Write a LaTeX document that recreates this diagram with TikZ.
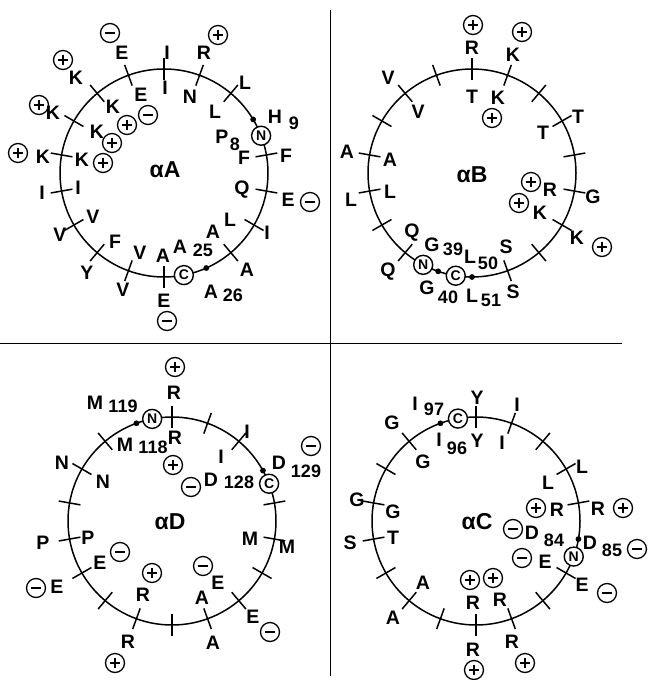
\documentclass[tikz,border=0pt]{standalone}
\usepackage{fontspec}
\setmainfont{Liberation Sans}
\usetikzlibrary{calc}
\tikzset{
  lbl/.style={inner sep=0pt, font=\fontsize{19.5}{19.5}\selectfont\bfseries},
  num/.style={inner sep=0pt, font=\fontsize{18}{18}\selectfont\bfseries},
  ttl/.style={inner sep=0pt, font=\fontsize{23}{23}\selectfont\bfseries},
  chgc/.style={circle, draw, line width=1.3pt, minimum size=19pt, inner sep=0pt},
  term/.style={circle, draw, fill=white, line width=1.4pt, minimum size=19pt, inner sep=0pt, font=\fontsize{14}{14}\selectfont\bfseries},
  wheel/.style={line width=1.5pt},
  sgn/.style={line width=1.5pt},
  divider/.style={line width=0.9pt}
}
\newcommand\lb[3]{\node[lbl] (#1) at (#2) {#3};}
\newcommand\nm[3]{\node[num] (#1) at (#2) {#3};}
\newcommand\pl[2]{\node[chgc] (#1) at (#2) {};
  \draw[sgn] (#1.center) +(-4.8,0) -- +(4.8,0); \draw[sgn] (#1.center) +(0,-4.8) -- +(0,4.8);}
\newcommand\mi[2]{\node[chgc] (#1) at (#2) {};
  \draw[sgn] (#1.center) +(-4.8,0) -- +(4.8,0);}
\newcommand\ticks[2]{\foreach \t in {#2}{\draw[wheel] ($(#1)+({-(\t)}:93)$) -- ($(#1)+({-(\t)}:115)$);}}
\newcommand\wdot[3]{\fill ($(#2)+({-(#3)}:104)$) coordinate (#1) circle (2.9);}
\newcommand\trm[4]{\node[term] (#1) at ($(#2)+({-(#3)}:104)$) {#4};}
\begin{document}
\begin{tikzpicture}[x=1pt,y=-1pt]
\useasboundingbox (0,0) rectangle (648,680);
% dividers
\coordinate (vt) at (330,10); \coordinate (vb) at (330,676);
\coordinate (hl) at (0,343); \coordinate (hr) at (622,343);
\draw[divider] (vt) -- (vb);
\draw[divider] (hl) -- (hr);

% ================= alpha A =================
\coordinate (cA) at (164,173);
\draw[wheel] (cA) circle (104);
\ticks{cA}{90,70,50,10,-10,-30,-50,-90,-110,-130,-150,-170,170,150,130,110}
\wdot{aDotN}{cA}{31}
\wdot{aDotC}{cA}{-66}
\trm{aN}{cA}{21}{N}
\trm{aC}{cA}{-79}{C}
\node[ttl] (tA) at (165,170) {αA};
\lb{a1}{167,53}{I} \lb{a2}{165,88}{I}
\lb{a3}{204,53}{R} \lb{a4}{190,97}{N} \pl{ap1}{218,35}
\lb{a5}{245,83}{L} \lb{a6}{215,112}{L}
\lb{a7}{275,117}{H} \nm{a7n}{294,123}{9}
\lb{a8}{222,137}{P} \nm{a8n}{235,144}{8}
\lb{a9}{286,156}{F} \lb{a10}{244,158}{F}
\lb{a11}{288,200}{E} \mi{am1}{310,202} \lb{a12}{242,190}{Q}
\lb{a13}{267,233}{I} \lb{a14}{230,220}{L}
\lb{a15}{247,270}{A} \lb{a16}{213,232}{A}
\lb{a17}{180,247}{A} \nm{a17n}{203,250}{25}
\lb{a18}{211,292}{A} \nm{a18n}{233,295}{26}
\lb{a19}{163,256}{A} \lb{a20}{164,301}{E} \mi{am2}{167,321}
\lb{a21}{140,253}{V} \lb{a22}{123,290}{V}
\lb{a23}{115,242}{F} \lb{a24}{87,273}{Y}
\lb{a25}{93,217}{V} \lb{a26}{60,235}{V}
\lb{a27}{78,188}{I} \lb{a28}{42,193}{I}
\lb{a29}{82,160}{K} \lb{a30}{43,157}{K} \pl{ap2}{18,153} \pl{ap3}{103,163}
\lb{a31}{97,132}{K} \lb{a32}{53,113}{K} \pl{ap4}{39,105} \pl{ap5}{112,143}
\lb{a33}{113,107}{K} \lb{a34}{76,78}{K} \pl{ap6}{63,60} \pl{ap7}{127,125}
\lb{a35}{141,95}{E} \lb{a36}{122,53}{E} \mi{am3}{110,33} \mi{am4}{148,115}

% ================= alpha B =================
\coordinate (cB) at (472,173);
\draw[wheel] (cB) circle (104);
\ticks{cB}{90,70,50,30,10,-10,-30,-50,-70,-130,-150,-170,170,150,130,110}
\wdot{bDot1}{cB}{-90}
\wdot{bDot2}{cB}{-109}
\trm{bC}{cB}{-99}{C}
\trm{bN}{cB}{-118}{N}
\node[ttl] (tB) at (472,175) {αB};
\pl{bp1}{473,25} \lb{b1}{472,48}{R} \lb{b2}{472,97}{T}
\pl{bp2}{522,32} \lb{b3}{513,55}{K} \lb{b4}{498,98}{K} \pl{bp3}{492,118}
\lb{b5}{578,117}{T} \lb{b6}{543,133}{T}
\lb{b7}{593,197}{G} \lb{b8}{550,190}{R} \pl{bp4}{531,182}
\lb{b9}{577,238}{K} \pl{bp5}{602,247} \lb{b10}{540,213}{K} \pl{bp6}{519,203}
\lb{b11}{506,247}{S} \lb{b12}{513,292}{S}
\lb{b13}{470,257}{L} \nm{b13n}{488,263}{50}
\lb{b14}{472,296}{L} \nm{b14n}{491,300}{51}
\lb{b15}{432,245}{G} \nm{b15n}{453,249}{39}
\lb{b16}{427,288}{G} \nm{b16n}{448,297}{40}
\lb{b17}{412,233}{Q} \lb{b18}{388,272}{Q}
\lb{b19}{390,192}{L} \lb{b20}{351,200}{L}
\lb{b21}{390,160}{A} \lb{b22}{347,152}{A}
\lb{b23}{418,112}{V} \lb{b24}{388,78}{V}

% ================= alpha D =================
\coordinate (cD) at (172,521);
\draw[wheel] (cD) circle (104);
\ticks{cD}{90,70,50,10,-10,-30,-50,-70,-90,-110,-130,-150,-170,170,150,130}
\wdot{dDotN}{cD}{110}
\wdot{dDotC}{cD}{29}
\trm{dN}{cD}{101}{N}
\trm{dC}{cD}{21}{C}
\node[ttl] (tD) at (170,522) {αD};
\pl{dp1}{175,367} \lb{d1}{174,393}{R} \lb{d2}{175,438}{R} \pl{dp2}{173,465}
\lb{d3}{95,403}{M} \nm{d3n}{123,406}{119}
\lb{d4}{125,445}{M} \nm{d4n}{153,447}{118}
\lb{d5}{247,432}{I} \lb{d6}{221,457}{I}
\lb{d7}{279,463}{D} \nm{d7n}{306,471}{129} \mi{dm1}{311,446}
\lb{d8}{211,480}{D} \nm{d8n}{239,482}{128} \mi{dm2}{191,487}
\lb{d9}{250,539}{M} \lb{d10}{287,547}{M}
\lb{d11}{218,583}{E} \mi{dm3}{203,566} \lb{d12}{253,617}{E} \mi{dm4}{270,632}
\lb{d13}{202,598}{A} \lb{d14}{213,643}{A}
\lb{d15}{143,595}{R} \pl{dp3}{152,573} \lb{d16}{128,642}{R} \pl{dp4}{115,663}
\lb{d17}{100,563}{E} \mi{dm5}{120,552} \lb{d18}{57,587}{E} \mi{dm6}{36,588}
\lb{d19}{88,538}{P} \lb{d20}{43,543}{P}
\lb{d21}{103,482}{N} \lb{d22}{62,463}{N}

% ================= alpha C =================
\coordinate (cC) at (476,521);
\draw[wheel] (cC) circle (104);
\ticks{cC}{90,70,50,30,10,-30,-50,-70,-90,-110,-130,-150,-170,170,150,130}
\wdot{cDotC}{cC}{110}
\wdot{cDotN}{cC}{-10}
\trm{cCt}{cC}{100}{C}
\trm{cNt}{cC}{-20}{N}
\node[ttl] (tC) at (477,522) {αC};
\lb{c1}{477,398}{Y} \lb{c2}{477,441}{Y}
\lb{c3}{415,404}{I} \nm{c3n}{434,409}{97}
\lb{c4}{439,440}{I} \nm{c4n}{457,448}{96}
\lb{c5}{517,405}{I} \lb{c6}{502,443}{I}
\lb{c7}{582,467}{L} \lb{c8}{548,483}{L}
\pl{cp1}{536,508} \lb{c9}{557,510}{R} \lb{c10}{598,509}{R} \pl{cp2}{623,508}
\mi{cm1}{513,529} \lb{c11}{532,533}{D} \nm{c11n}{554,540}{84}
\lb{c12}{590,543}{D} \nm{c12n}{612,550}{85} \mi{cm2}{637,549}
\mi{cm3}{522,558} \lb{c13}{545,562}{E} \lb{c14}{582,585}{E} \mi{cm4}{607,593}
\lb{c15}{500,600}{R} \pl{cp3}{493,578} \lb{c16}{512,642}{R} \pl{cp4}{525,663}
\lb{c17}{473,603}{R} \pl{cp5}{470,580} \lb{c18}{473,650}{R} \pl{cp6}{474,670}
\lb{c19}{423,583}{A} \lb{c20}{393,618}{A}
\lb{c21}{393,538}{T} \lb{c22}{350,543}{S}
\lb{c23}{393,512}{G} \lb{c24}{357,500}{G}
\lb{c25}{423,462}{G} \lb{c26}{392,423}{G}
\end{tikzpicture}
\end{document}
